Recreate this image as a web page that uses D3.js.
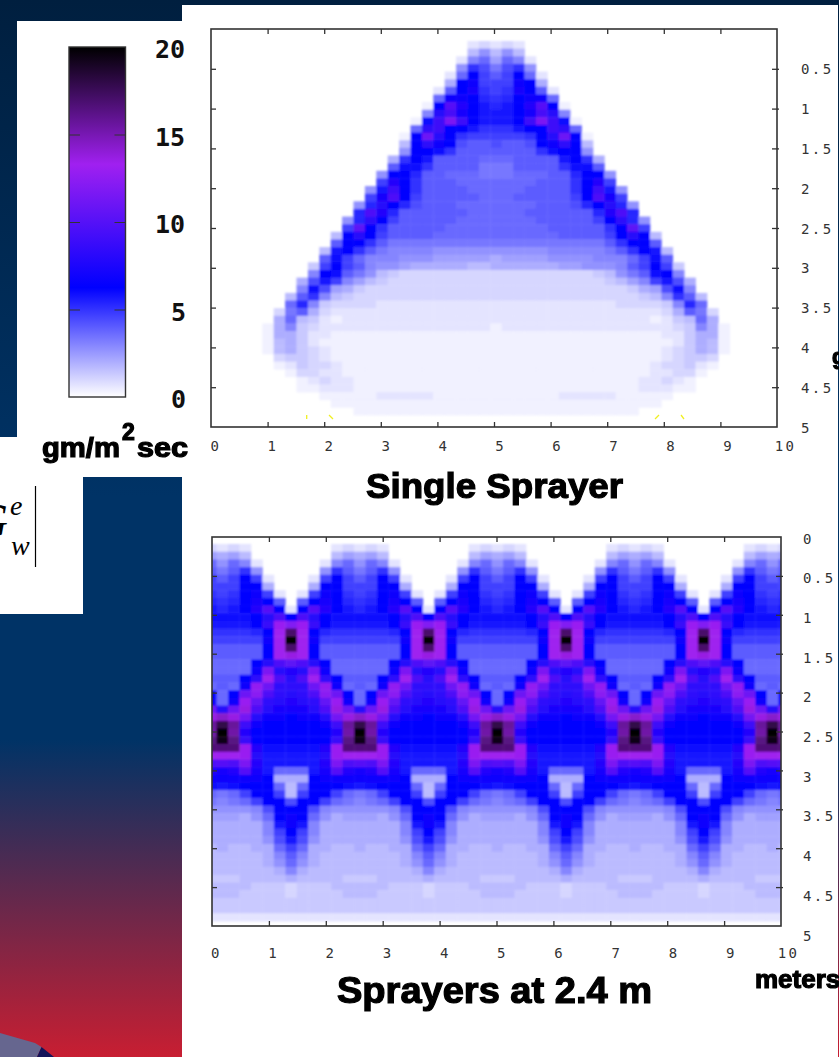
<!DOCTYPE html>
<html lang="en">
<head>
<meta charset="UTF-8">
<title>Sprayer flux</title>
<script src="https://d3js.org/d3.v7.min.js"></script>
<style>
    html, body { margin: 0; padding: 0; background: #fff; overflow: hidden; }
    svg { display: block; }
    .tick-label { font-family: "DejaVu Sans Mono", monospace; font-size: 14px; letter-spacing: 2.4px; fill: #333; }
    .bar-label { font-family: "DejaVu Sans Mono", monospace; font-size: 25px; font-weight: bold; fill: #111; }
    .heavy { font-family: "Liberation Sans", Arial, sans-serif; font-weight: bold; fill: #000; stroke: #000; stroke-width: 1.2px; }
    .axis path, .axis line { stroke: #333; }
</style>
</head>
<body>
<svg id="chart" width="839" height="1057"></svg>
<script>
// each character is one cell, position in levelChars / 3 = gm/m2sec
const levelChars = "0123456789abcdefghijklmnopqrstuvwxyzABCDEFGHIJKLMNOPQRSTUVWXY";

// blocks of ten columns, spaces are only there for reading
const singleSprayerRows = [
    "0000000000 0000000000 0002323200 0000000000 0000000000 0",
    "0000000000 0000000000 0005858500 0000000000 0000000000 0",
    "0000000000 0000000000 0029b7b920 0000000000 0000000000 0",
    "0000000000 0000000000 008fdadf80 0000000000 0000000000 0",
    "0000000000 0000000000 02bjecejb2 0000000000 0000000000 0",
    "0000000000 0000000000 06jkeeekj6 0000000000 0000000000 0",
    "0000000000 0000000000 2cjmfefmjc 2000000000 0000000000 0",
    "0000000000 0000000000 bkljgfgjlk b000000000 0000000000 0",
    "0000000000 0000000001 junjhghjnu j100000000 0000000000 0",
    "0000000000 0000000009 osmjhhhjms o900000000 0000000000 0",
    "0000000000 000000001i rzrjhhhjrz ri10000000 0000000000 0",
    "0000000000 00000000bp rjjhfffhjj rpb0000000 0000000000 0",
    "0000000000 00000001jx ojfeeeeefj oxj1000000 0000000000 0",
    "0000000000 00000005jp kjdccdccdj kpj5000000 0000000000 0",
    "0000000000 00000008jj ifcccccccf ijj8000000 0000000000 0",
    "0000000000 0000006fjh ccccbbbccc chjf600000 0000000000 0",
    "0000000000 000000ciif ccccaaaccc cfiic00000 0000000000 0",
    "0000000000 000008jjgc cbbbaaabbb ccgjj80000 0000000000 0",
    "0000000000 00000enjfc ccbbbbbbbc ccfjne0000 0000000000 0",
    "0000000000 00008hrjfc cccbbbbbcc ccfjrh8000 0000000000 0",
    "0000000000 0000emtjec ccccbbbccc ccejtme000 0000000000 0",
    "0000000000 0008gojgdc ccbbbbbbbc ccdgjog800 0000000000 0",
    "0000000000 000gtngccc cccbbbbbcc ccccgntg00 0000000000 0",
    "0000000000 008gpjeccc ccbbbbbbbc ccccejpg80 0000000000 0",
    "0000000000 00evjfcccc cbbbbbbbbb cccccfjve0 0000000000 0",
    "0000000000 05jojecccc bbbbbbbbbb bccccejoj5 0000000000 0",
    "0000000000 0cjjfcaaaa aaaaaaaaaa aaaaacfjjc 0000000000 0",
    "0000000000 5hjfca9999 8888888888 99999acfjh 5000000000 0",
    "0000000000 cieb999888 7777767777 8888999bei c000000000 0",
    "0000000004 ejec988766 6665566666 6778889cej e400000000 0",
    "0000000009 jica854333 3333333333 3333458aci j900000000 0",
    "000000006d he97543333 3333333333 333334579e hd60000000 0",
    "000000009i d764333333 3333333333 3333333467 di90000000 0",
    "00000005cf 9543333333 3333333333 3333333345 9fc5000000 0",
    "0000000bg9 4333322222 2222222222 2222223333 49gb000000 0",
    "0000003ac6 3222222222 2222222222 2222222222 36ca300000 0",
    "0000006b54 2122222222 2222222222 2222222221 245b600000 0",
    "0000016943 2222222222 2222212222 2222222222 2349610000 0",
    "0000016642 2111111111 1111111111 1111111111 2246610000 0",
    "0000015642 1111111111 1111111111 1111111111 1246510000 0",
    "0000015643 2111111111 1111111111 1111111111 2346510000 0",
    "0000003443 2111111111 1111111111 1111111111 2344300000 0",
    "0000001243 3211111111 1111111111 1111111112 3342100000 0",
    "0000000133 2211111111 1111111111 1111111112 2331000000 0",
    "0000000012 3221111111 1111111111 1111111122 3210000000 0",
    "0000000011 2221111111 1111111111 1111111122 2110000000 0",
    "0000000000 1111122222 1111111111 1222221111 1000000000 0",
    "0000000000 0111111111 1111111111 1111111111 0000000000 0",
    "0000000000 0001111111 1111111111 1111111100 0000000000 0"
];

// first column, then four sprayer spacings of twelve columns, then the last two
const multiSprayerRows = [
    "3 232000000023 232000000023 232000000023 232000000023 23",
    "7 675000000057 675000000057 675000000057 675000000057 67",
    "b 8b920000029b 8b920000029b 8b920000029b 8b920000029b 8b",
    "c acf8000008fc acf8000008fc acf8000008fc acf8000008fc ac",
    "e ceje20002eje ceje20002eje ceje20002eje ceje20002eje ce",
    "e eejj60006jje eejj60006jje eejj60006jje eejj60006jje ee",
    "f efjke202ekjf efjke202ekjf efjke202ekjf efjke202ekjf ef",
    "g fgjmjc0cjmjg fgjmjc0cjmjg fgjmjc0cjmjg fgjmjc0cjmjg fg",
    "h ghjnuj2junjh ghjnuj2junjh ghjnuj2junjh ghjnuj2junjh gh",
    "i iiijotjtojii iiijotjtojii iiijotjtojii iiijotjtojii ii",
    "h hhhjqDADqjhh hhhjqDADqjhh hhhjqDADqjhh hhhjqDADqjhh hh",
    "f fffgjEPEjgff fffgjEPEjgff fffgjEPEjgff fffgjEPEjgff ff",
    "e eeeekEYEkeee eeeekEYEkeee eeeekEYEkeee eeeekEYEkeee ee",
    "c ccccjEPEjccc ccccjEPEjccc ccccjEPEjccc ccccjEPEjccc cc",
    "c ccccjEFEjccc ccccjEFEjccc ccccjEFEjccc ccccjEFEjccc cc",
    "b bbbjotvtojbb bbbjotvtojbb bbbjotvtojbb bbbjotvtojbb bb",
    "b bbbkzonozkbb bbbkzonozkbb bbbkzonozkbb bbbkzonozkbb bb",
    "c ccjpEtotEpjc ccjpEtotEpjc ccjpEtotEpjc ccjpEtotEpjc cc",
    "b cblCxpppxClb cblCxpppxClb cblCxpppxClb cblCxpppxClb cb",
    "j bjxBtpoptBxj bjxBtpoptBxj bjxBtpoptBxj bjxBtpoptBxj bj",
    "l blDwponopwDl blDwponopwDl blDwponopwDl blDwponopwDl bl",
    "x oxFtommmotFx oxFtommmotFx oxFtommmotFx oxFtommmotFx ox",
    "F HFyokkjkkoyF HFyokkjkkoyF HFyokkjkkoyF HFyokkjkkoyF HF",
    "L SLrkjjjjjkrL SLrkjjjjjkrL SLrkjjjjjkrL SLrkjjjjjkrL SL",
    "K YKnjjjjjjjnK YKnjjjjjjjnK YKnjjjjjjjnK YKnjjjjjjjnK YK",
    "N WNqjjjjjjjqN WNqjjjjjjjqN WNqjjjjjjjqN WNqjjjjjjjqN WN",
    "O OODniiiiinDO OODniiiiinDO OODniiiiinDO OODniiiiinDO OO",
    "E EEDohhhhhoDE EEDohhhhhoDE EEDohhhhhoDE EEDohhhhhoDE EE",
    "t utznhhhhhnzt utznhhhhhnzt utznhhhhhnzt utznhhhhhnzt ut",
    "n mnumhbbbhmun mnumhbbbhmun mnumhbbbhmun mnumhbbbhmun mn",
    "k kklkj666jklk kklkj666jklk kklkj666jklk kklkj666jklk kk",
    "i hijjjb5bjjji hijjjb5bjjji hijjjb5bjjji hijjjb5bjjji hi",
    "b abejje5ejjeb abejje5ejjeb abejje5ejjeb abejje5ejjeb ab",
    "a 9abejjdjjeba 9abejjdjjeba 9abejjdjjeba 9abejjdjjeba 9a",
    "8 8889djjjd988 8889djjjd988 8889djjjd988 8889djjjd988 88",
    "7 7768bjkjb867 7768bjkjb867 7768bjkjb867 7768bjkjb867 77",
    "6 66669hkh9666 66669hkh9666 66669hkh9666 66669hkh9666 66",
    "6 66669eje9666 66669eje9666 66669eje9666 66669eje9666 66",
    "6 66668dhd8666 66668dhd8666 66668dhd8666 66668dhd8666 66",
    "5 65566beb6655 65566beb6655 65566beb6655 65566beb6655 65",
    "5 555569c96555 555569c96555 555569c96555 555569c96555 55",
    "5 555568b86555 555568b86555 555568b86555 555568b86555 55",
    "5 555556965555 555556965555 555556965555 555556965555 55",
    "4 445555655554 445555655554 445555655554 445555655554 44",
    "5 555444344455 555444344455 555444344455 555444344455 55",
    "5 554444344445 554444344445 554444344445 554444344445 55",
    "4 444444444444 444444444444 444444444444 444444444444 44",
    "4 444444444444 444444444444 444444444444 444444444444 44",
    "2 222222222222 222222222222 222222222222 222222222222 22"
];

const xTicks = [0, 1, 2, 3, 4, 5, 6, 7, 8, 9, 10];
const yTicks = [0, 0.5, 1, 1.5, 2, 2.5, 3, 3.5, 4, 4.5, 5];
const barTicks = [0, 5, 10, 15, 20];

const colorStops = [0, 6.25, 13.3, 20];
const colorValues = ["#ffffff", "#0000ff", "#a020f0", "#000000"];
const color = d3.scaleLinear().domain(colorStops).range(colorValues);

const svg = d3.select("#chart");
const defs = svg.append("defs");

const bg = defs.append("linearGradient").attr("id", "bg")
    .attr("gradientUnits", "userSpaceOnUse")
    .attr("x1", 0).attr("y1", 0).attr("x2", 0).attr("y2", 1057);
[[0, "#001f3f"], [0.47, "#003366"], [0.70, "#003366"], [1, "#c81e32"]].forEach(s => {
    bg.append("stop").attr("offset", s[0]).attr("stop-color", s[1]);
});

defs.append("filter").attr("id", "soft").attr("x", "-5%").attr("y", "-5%").attr("width", "110%").attr("height", "110%")
    .append("feGaussianBlur").attr("stdDeviation", 0.9);
defs.append("filter").attr("id", "softText").attr("x", "-5%").attr("y", "-20%").attr("width", "110%").attr("height", "140%")
    .append("feGaussianBlur").attr("stdDeviation", 0.6);

// backdrop of the slide, white panels over it
svg.append("rect").attr("width", 839).attr("height", 1057).attr("fill", "url(#bg)");
const panels = [[182, 5, 656, 1052], [17, 21, 165, 416], [0, 437, 83, 177], [83, 437, 99, 40]];
svg.selectAll("rect.panel").data(panels).enter().append("rect").attr("class", "panel")
    .attr("x", d => d[0]).attr("y", d => d[1]).attr("width", d => d[2]).attr("height", d => d[3])
    .attr("fill", "#fff");

svg.append("path").attr("d", "M0,1033L35,1043L41.5,1047L37,1057L0,1057Z").attr("fill", "#66668f");
svg.append("path").attr("d", "M41.5,1047L54,1057L37,1057Z").attr("fill", "#14145a");

// formula fragment on the left
const serif = "'Liberation Serif', 'Times New Roman', serif";
svg.append("text").attr("x", 8).attr("y", 537).attr("text-anchor", "end")
    .style("font-family", serif).style("font-style", "italic").style("font-size", "48px").attr("fill", "#000").text("G");
svg.append("text").attr("x", 10).attr("y", 515)
    .style("font-family", serif).style("font-style", "italic").style("font-size", "28px").attr("fill", "#000").text("e");
svg.append("text").attr("x", 11).attr("y", 555)
    .style("font-family", serif).style("font-style", "italic").style("font-size", "28px").attr("fill", "#000").text("w");
svg.append("line").attr("x1", 35.5).attr("x2", 35.5).attr("y1", 486).attr("y2", 567).attr("stroke", "#000").attr("stroke-width", 1.2);

// heat map plus frame, ticks and labels of one panel
function drawPanel(cfg) {
    const g = svg.append("g");
    const x = d3.scaleLinear().domain([0, 10]).range(cfg.frameX);
    const y = d3.scaleLinear().domain([0, 5]).range(cfg.frameY);
    const col = d3.scaleBand().domain(d3.range(51)).range(cfg.cols);
    const row = d3.scaleBand().domain(d3.range(cfg.rows.length)).range(cfg.rowRange);

    const clipId = "clip" + cfg.id;
    defs.append("clipPath").attr("id", clipId).append("rect")
        .attr("x", cfg.frameX[0]).attr("y", cfg.frameY[0])
        .attr("width", cfg.frameX[1] - cfg.frameX[0]).attr("height", cfg.frameY[1] - cfg.frameY[0]);

    const cells = [];
    cfg.rows.forEach((r, i) => {
        r.replace(/ /g, "").split("").forEach((ch, j) => {
            const v = levelChars.indexOf(ch) / 3;
            if (v > 0) cells.push({ i, j, v });
        });
    });

    g.append("g").attr("clip-path", `url(#${clipId})`)
        .append("g").attr("filter", "url(#soft)")
        .selectAll("rect").data(cells).enter().append("rect")
        .attr("x", d => col(d.j))
        .attr("y", d => row(d.i))
        .attr("width", col.bandwidth() + 0.4)
        .attr("height", row.bandwidth() + 0.4)
        .attr("fill", d => color(d.v));

    // inward ticks on three sides, crossing ticks on the right
    const inner = yTicks.slice(1, -1);
    const innerX = xTicks.slice(1, -1);
    g.append("g").attr("class", "axis").attr("transform", `translate(${cfg.frameX[0]},0)`)
        .call(d3.axisLeft(y).tickValues(inner).tickSize(-5).tickFormat(""));
    g.append("g").attr("class", "axis").attr("transform", `translate(0,${cfg.frameY[0]})`)
        .call(d3.axisTop(x).tickValues(innerX).tickSize(-5).tickFormat(""));
    g.append("g").attr("class", "axis").attr("transform", `translate(0,${cfg.frameY[1]})`)
        .call(d3.axisBottom(x).tickValues(innerX).tickSize(-5).tickFormat(""));
    const rightTicks = g.append("g").attr("class", "axis").attr("transform", `translate(${cfg.frameX[1]},0)`)
        .call(d3.axisRight(y).tickValues(inner).tickSize(2).tickFormat(""));
    rightTicks.selectAll(".tick line").attr("x1", -5);
    g.selectAll(".axis .domain").remove();
    g.selectAll(".axis line").attr("stroke-width", 1.3);

    g.append("rect")
        .attr("x", cfg.frameX[0]).attr("y", cfg.frameY[0])
        .attr("width", cfg.frameX[1] - cfg.frameX[0]).attr("height", cfg.frameY[1] - cfg.frameY[0])
        .attr("fill", "none").attr("stroke", "#333").attr("stroke-width", 1.6);

    const labelX = d3.scaleLinear().domain([0, 10]).range(cfg.labelX);
    const labelY = d3.scaleLinear().domain([0, 5]).range(cfg.labelY);
    const bottom = g.append("g").attr("transform", `translate(0,${cfg.labelXAt})`)
        .call(d3.axisBottom(labelX).tickValues(xTicks).tickFormat(d => d).tickSize(0).tickPadding(0));
    bottom.select(".domain").remove();
    bottom.selectAll("text").attr("class", "tick-label").attr("y", 0).attr("dy", "0.36em").attr("fill", null);
    const side = g.append("g").attr("transform", `translate(${cfg.labelYAt},0)`)
        .call(d3.axisRight(labelY).tickValues(yTicks.filter(t => cfg.zeroLabel || t > 0)).tickFormat(d => d).tickSize(0).tickPadding(0));
    side.select(".domain").remove();
    side.selectAll("text").attr("class", "tick-label").attr("x", 0).attr("dy", "0.36em").attr("fill", null);
    g.selectAll("g[font-size]").attr("font-size", null).attr("font-family", null);
}

drawPanel({
    id: 1, rows: singleSprayerRows,
    cols: [205.3, 786.7], rowRange: [41, 415],
    frameX: [211, 777], frameY: [29, 427],
    labelX: [215.5, 785], labelXAt: 446,
    labelY: [29, 427], labelYAt: 801, zeroLabel: false
});
drawPanel({
    id: 2, rows: multiSprayerRows,
    cols: [205.1, 789.6], rowRange: [544, 921],
    frameX: [212, 781], frameY: [537, 926],
    labelX: [216, 788], labelXAt: 953,
    labelY: [538, 935], labelYAt: 803, zeroLabel: true
});

// small yellow specks under the single sprayer plot
const specks = [[306.7, 415, 306.7, 419], [329, 415, 333, 419], [655, 419, 659, 415], [681, 415, 684, 419]];
svg.selectAll("line.speck").data(specks).enter().append("line").attr("class", "speck")
    .attr("x1", d => d[0]).attr("y1", d => d[1]).attr("x2", d => d[2]).attr("y2", d => d[3])
    .attr("stroke", "#f0f020").attr("stroke-width", 1.3);

// titles and clipped unit labels
function heavyText(str, px, py, size, width) {
    const t = svg.append("text").attr("class", "heavy").attr("x", px).attr("y", py)
        .style("font-size", size + "px").attr("filter", "url(#softText)").text(str);
    if (width) t.attr("textLength", width).attr("lengthAdjust", "spacingAndGlyphs");
}
heavyText("Single Sprayer", 366, 498, 35, 257);
heavyText("Sprayers at 2.4 m", 337, 1003, 36, 315);
heavyText("meters", 755, 988, 26);
heavyText("g", 832, 364, 22);

// colour bar
const barY = d3.scaleLinear().domain([0, 20]).range([397, 47]);
const barGrad = defs.append("linearGradient").attr("id", "barGrad")
    .attr("gradientUnits", "userSpaceOnUse").attr("x1", 0).attr("x2", 0)
    .attr("y1", barY(0)).attr("y2", barY(20));
colorStops.forEach((s, i) => {
    barGrad.append("stop").attr("offset", s / 20).attr("stop-color", colorValues[i]);
});
svg.append("rect").attr("x", 69).attr("y", barY(20)).attr("width", 56.5).attr("height", barY(0) - barY(20))
    .attr("fill", "url(#barGrad)").attr("stroke", "#333").attr("stroke-width", 1.4);
const midTicks = barTicks.slice(1, -1);
svg.append("g").attr("class", "axis").attr("transform", "translate(69,0)")
    .call(d3.axisLeft(barY).tickValues(midTicks).tickSize(-11).tickFormat(""))
    .call(a => a.select(".domain").remove());
svg.append("g").attr("class", "axis").attr("transform", "translate(125.5,0)")
    .call(d3.axisRight(barY).tickValues(midTicks).tickSize(-11).tickFormat(""))
    .call(a => a.select(".domain").remove());
const barLabelY = d3.scaleLinear().domain([0, 20]).range([399, 49]);
svg.selectAll("text.bar-label").data(barTicks).enter().append("text").attr("class", "bar-label")
    .attr("x", d => d < 10 ? 171 : 155)
    .attr("y", d => barLabelY(d)).attr("dy", "0.36em")
    .text(d => d);

heavyText("gm/m", 42, 457, 27, 78);
heavyText("2", 122, 440, 23);
heavyText("sec", 137, 457, 27, 51);
</script>
</body>
</html>
